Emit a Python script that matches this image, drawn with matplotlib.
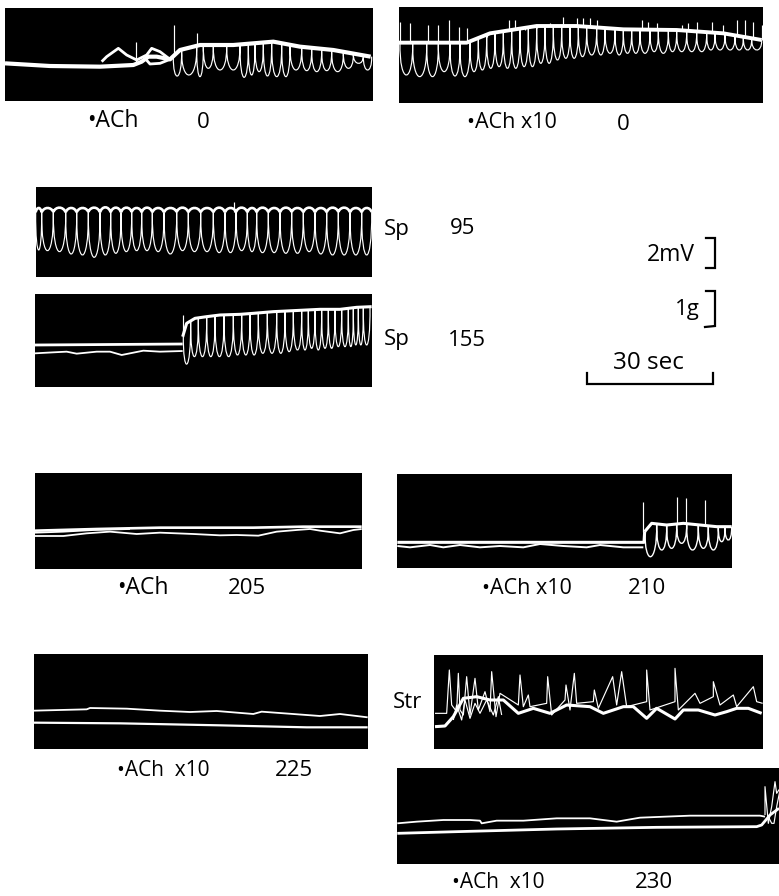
import numpy as np
import matplotlib
matplotlib.use("Agg")
import matplotlib.pyplot as plt
from matplotlib.path import Path
from matplotlib.patches import PathPatch

plt.rcParams['font.family'] = ['Open Sans', 'DejaVu Sans']
W, H = 779, 896

p1_env_x = [15,150,300,400,425,445,470,510,540,600,700,820,900,1000,1112]
p1_env_y = [190,198,200,195,185,170,170,178,150,135,135,125,140,150,170]
p1_hump_x = [305,320,355,380,410,440,455,480,510,480,450,435]
p1_hump_y = [185,170,145,165,180,165,145,155,178,190,192,175]
p1_beat_x = [520,545,590,610,640,680,720,745,765,790,815,845,870,905,935,965,995,1030,1060,1090,1115]
p1_beat_low = [228,225,230,205,210,210,232,225,215,228,230,230,210,212,215,212,215,205,190,210]
p1_spike_x = [408,522,590]
p1_spike_top = [125,75,100]

p2_env_x = [27,230,300,440,560,700,860,1000,1115]
p2_env_y = [128,128,100,78,78,88,90,100,120]
p2_beat_x = [30,68,110,145,180,210,240,265,290,315,340,365,390,415,440,465,490,515,540,565,590,620,645,675,700,725,750,780,805,835,860,890,920,950,975,1005,1035,1060,1085,1115]
p2_beat_low = [225,230,230,215,228,230,215,210,205,200,205,205,200,200,190,190,180,175,175,170,165,165,160,165,160,160,160,155,160,155,155,155,155,150,150,150,150,150,150]
p2_spike_x = [30,60,115,145,178,208,232,290,310,358,375,405,440,480,520,560,578,600,620,755,775,800,875,895,920,965,1000,1040,1065,1090,1115]
p2_spike_top = [65,70,75,75,60,80,85,110,100,60,60,90,85,70,50,55,55,55,60,60,65,70,75,70,65,65,75,60,60,65,75]

p3_beat_x = [47,65,100,137,170,205,240,272,303,335,365,397,432,470,505,542,580,615,648,682,710,745,780,815,850,885,920,955,990,1025,1055]
p3_beat_low = [210,212,215,222,225,232,225,220,215,212,212,215,222,212,215,215,218,218,212,215,218,218,220,220,215,222,225,225,225,225]
p3_dip = [97,97,96,97,97,96,97,97,97,96,97,97,97,96,97,97,97,97,96,97,97,97,97,96,97,97,97,96,97,97,96]
p3_crest = [84,84,83,84,84,83,82,83,83,84,83,84,84,83,84,84,83,84,83,84,83,84,83,84,83,84,83,83,84,84]
p3_spike_x = [643]
p3_spike_top = [65]

p4_flat_x = [45,200,488]
p4_flat_y = [495,494,492]
p4_wob_x = [45,100,140,170,230,270,305,370,420,488]
p4_wob_y = [520,517,515,521,515,515,525,512,515,513]
p4_env_x = [488,500,525,560,600,660,700,760,820,900,960,1010,1055]
p4_env_y = [470,430,415,410,405,403,400,395,392,388,388,382,380]
p4_beat_x = [490,512,535,560,585,612,640,665,690,715,742,770,795,820,845,865,885,905,925,945,965,985,1000,1015,1030,1050]
p4_beat_low = [552,530,530,530,530,530,525,525,525,520,520,520,515,510,510,505,510,505,505,500,500,500,495,495,495]
p4_spike_x = [488]
p4_spike_top = [405]

p5_thick_x = [45,230,420,700,850,1025]
p5_thick_y = [212,207,203,203,200,200]
p5_thin_x = [45,130,200,270,350,420,520,600,650,715,770,830,870,900,960,1000,1025]
p5_thin_y = [228,228,220,215,222,218,222,226,225,227,215,210,207,212,220,210,207]
p5_thin2_x = [45,130,220,330]
p5_thin2_y = [218,215,210,207]

p6_thick_x = [22,762,764]
p6_thick_y = [247,247,215]
p6_thin_x = [22,60,120,160,210,270,330,400,450,520,590,630,700,760]
p6_thin_y = [258,262,255,262,255,262,258,262,252,258,262,255,262,262]
p6_env_x = [764,785,830,880,930,980,1025]
p6_env_y = [215,190,195,190,195,200,200]
p6_beat_x = [765,800,830,860,890,925,955,985,1005,1025]
p6_beat_low = [290,270,265,250,270,265,270,245,240]
p6_spike_x = [760,860,888,945]
p6_spike_top = [125,112,115,120]

p7_thin_x = [42,120,200,210,320,420,510,590,700,725,900,960,1043]
p7_thin_y = [212,210,208,204,206,212,216,213,222,215,228,222,232]
p7_thick_x = [42,300,600,860,1043]
p7_thick_y = [248,250,256,262,262]

p8_thick_x = [135,165,190,220,260,300,340,385,430,480,530,600,640,700,730,770,800,855,880,925,975,1010,1040,1075,1115]
p8_thick_y = [230,228,200,145,140,150,150,190,175,190,165,170,190,170,170,205,175,207,180,180,195,185,175,175,190]
p8_thin_x = [135,170,178,185,200,205,210,220,230,240,255,265,285,300,305,318,330,385,390,400,415,420,470,473,485,525,528,540,553,560,610,613,625,668,680,695,710,770,770,780,855,855,865,915,930,970,970,990,1030,1040,1090,1100,1118]
p8_thin_y = [190,190,60,165,185,70,180,195,80,195,85,180,125,185,65,200,130,165,75,170,135,170,160,80,195,150,105,180,70,160,155,120,175,80,165,65,170,155,60,180,155,55,180,130,160,140,95,165,135,170,110,155,160]
p8_loop_x = [190,200,215,225,240,255,270,290,310,325,335]
p8_loop_y = [210,165,210,150,205,160,190,150,195,140,195]

p9_thin_x = [22,80,160,240,270,275,320,400,500,600,680,750,900,1000,1110,1125]
p9_thin_y = [520,515,510,510,512,520,512,512,505,505,515,503,497,497,497,500]
p9_thick_x = [22,200,500,800,1100,1115,1140,1167]
p9_thick_y = [550,545,537,532,530,525,495,475]
p9_osc_x = [1125,1125,1135,1145,1155,1160,1170]
p9_osc_y = [495,410,520,470,395,430,415]
p9_osc2_x = [1135,1145,1152,1160,1170]
p9_osc2_y = [500,520,520,470,420]

# ---- labels and calibration marks ----
labels = ["•ACh", "0", "•ACh x10", "0", "Sp", "95", "Sp", "155", "2mV", "1g", "30 sec",
          "•ACh", "205", "•ACh x10", "210", "•ACh  x10", "225", "Str", "•ACh  x10", "230"]
label_x = [87, 197, 467, 617, 384, 450, 384, 448, 647, 675, 613, 117, 228, 482, 628, 117, 275, 393, 452, 635]
label_y = [121, 123, 123, 124, 229, 229, 340, 341, 255, 310, 363, 588, 588, 588, 588, 770, 770, 702, 882, 882]
label_size = [16.5, 16, 15.5, 16, 16, 16, 16, 16, 16.5, 16, 17.5, 16.5, 16, 15.5, 16, 15, 16, 16, 15, 16]
mv_x, mv_y = [706, 715, 715, 706], [238, 238, 268, 268]
g_x, g_y = [706, 715, 715, 705], [291, 291, 326, 327]
sec_x, sec_y = [587, 587, 713, 713], [373, 384, 384, 373]

THICK, THIN = 2.3, 0.85
fig = plt.figure(figsize=(W / 100, H / 100), dpi=100, facecolor='white')


def panel(x0, x1, y0, y1, ox, oy):
    l, r = ox + x0 / 3, ox + x1 / 3
    t, b = oy + y0 / 3, oy + y1 / 3
    ax = fig.add_axes([l / W, 1 - b / H, (r - l) / W, (b - t) / H], facecolor='black')
    ax.set_xlim(x0, x1)
    ax.set_ylim(y1, y0)
    ax.axis('off')
    ax.add_patch(plt.Rectangle((0, 0), 1, 1, transform=ax.transAxes, color='black', zorder=0))
    return ax


def beats(ax, bx, low, ex, ey, lw=THIN, off=-0.06, z=2):
    top = np.interp(bx, ex, ey)
    verts, codes = [], []
    for i, lo in enumerate(low):
        x0, x1 = bx[i], bx[i + 1]
        d = x1 - x0
        c = (lo - (top[i] + top[i + 1]) / 8) * 4 / 3
        verts += [(x0, top[i]), (x0 + off * d, c), (x1 - off * d, c), (x1, top[i + 1])]
        codes += [Path.MOVETO, Path.CURVE4, Path.CURVE4, Path.CURVE4]
    ax.add_patch(PathPatch(Path(verts, codes), fill=False, edgecolor='white', lw=lw, zorder=z))


def spikes(ax, sx, st, ex, ey):
    ax.vlines(sx, st, np.interp(sx, ex, ey), color='white', lw=THIN, zorder=2)


def line(ax, x, y, lw=THICK):
    ax.plot(x, y, color='white', lw=lw, solid_joinstyle='round', solid_capstyle='butt', zorder=3)


a = panel(15, 1120, 25, 303, 0, 0)
line(a, p1_env_x, p1_env_y, 3.0)
line(a, p1_hump_x, p1_hump_y, 2.0)
beats(a, p1_beat_x, p1_beat_low, p1_env_x, p1_env_y)
spikes(a, p1_spike_x, p1_spike_top, p1_env_x, p1_env_y)

a = panel(27, 1118, 22, 310, 390, 0)
line(a, p2_env_x, p2_env_y, 2.8)
beats(a, p2_beat_x, p2_beat_low, p2_env_x, p2_env_y)
spikes(a, p2_spike_x, p2_spike_top, p2_env_x, p2_env_y)

a = panel(47, 1057, 20, 290, 20, 180)
beats(a, p3_beat_x, p3_crest, p3_beat_x, p3_dip, lw=1.9, off=0.2, z=3)
beats(a, p3_beat_x, p3_beat_low, p3_beat_x, p3_dip)
spikes(a, p3_spike_x, p3_spike_top, p3_beat_x, p3_dip)

a = panel(44, 1055, 342, 622, 20, 180)
line(a, p4_flat_x, p4_flat_y, 2.0)
line(a, p4_wob_x, p4_wob_y, 1.3)
line(a, p4_env_x, p4_env_y, 2.2)
beats(a, p4_beat_x, p4_beat_low, p4_env_x, p4_env_y)
spikes(a, p4_spike_x, p4_spike_top, p4_env_x, p4_env_y)

a = panel(45, 1025, 40, 327, 20, 460)
line(a, p5_thick_x, p5_thick_y, 1.9)
line(a, p5_thin_x, p5_thin_y, 1.3)
line(a, p5_thin2_x, p5_thin2_y, 1.3)

a = panel(22, 1025, 42, 325, 390, 460)
line(a, p6_thick_x, p6_thick_y, 2.2)
line(a, p6_thin_x, p6_thin_y, 1.4)
line(a, p6_env_x, p6_env_y, 2.2)
beats(a, p6_beat_x, p6_beat_low, p6_env_x, p6_env_y, 1.0)
spikes(a, p6_spike_x, p6_spike_top, p6_env_x, p6_env_y)

a = panel(42, 1043, 43, 327, 20, 640)
line(a, p7_thin_x, p7_thin_y, 1.3)
line(a, p7_thick_x, p7_thick_y, 1.6)

a = panel(132, 1120, 15, 297, 390, 650)
line(a, p8_thick_x, p8_thick_y, 2.2)
line(a, p8_thin_x, p8_thin_y, THIN)
line(a, p8_loop_x, p8_loop_y, THIN)

a = panel(22, 1167, 355, 642, 390, 650)
line(a, p9_thin_x, p9_thin_y, 1.3)
line(a, p9_thick_x, p9_thick_y, 2.0)
line(a, p9_osc_x, p9_osc_y, THIN)
line(a, p9_osc2_x, p9_osc2_y, THIN)

ov = fig.add_axes([0, 0, 1, 1], facecolor='none')
ov.set_xlim(0, W)
ov.set_ylim(H, 0)
ov.axis('off')
for s, x, y, fs in zip(labels, label_x, label_y, label_size):
    ov.text(x, y, s, fontsize=fs, color='black', ha='left', va='center')
for x, y in [(mv_x, mv_y), (g_x, g_y), (sec_x, sec_y)]:
    ov.plot(x, y, color='black', lw=1.6, solid_joinstyle='miter')

fig.savefig('out.png', dpi=100, facecolor='white')
